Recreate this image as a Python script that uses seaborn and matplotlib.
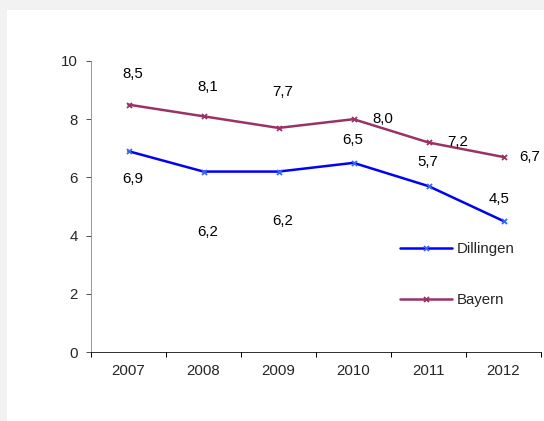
import numpy as np
import pandas as pd
import matplotlib
matplotlib.use("Agg")
import matplotlib.pyplot as plt
from matplotlib.patches import Rectangle
import seaborn as sns

# Data
years = ["2007", "2008", "2009", "2010", "2011", "2012"]
dillingen = [6.9, 6.2, 6.2, 6.5, 5.7, 4.5]
bayern = [8.5, 8.1, 7.7, 8.0, 7.2, 6.7]

# label offsets (pixels) like Excel's automatic placement
off_dil = [(4, -28), (4, -60), (4, -49), (-1, 23), (-1, 24), (-4, 22)]
off_bay = [(4, 31), (4, 29), (4, 36), (29, 0), (29, 0), (26, 0)]

df = pd.DataFrame({
    "Jahr": years * 2,
    "Wert": dillingen + bayern,
    "Region": ["Dillingen"] * 6 + ["Bayern"] * 6,
})

sns.set_style("white")
plt.rcParams["font.family"] = ["Liberation Sans", "DejaVu Sans"]
fs = 15

fig = plt.figure(figsize=(544 / 72, 421 / 72), dpi=72, facecolor="#f2f2f2")
fig.patches.append(Rectangle((7 / 544, 0), 1, 1 - 10 / 421, transform=fig.transFigure,
                             facecolor="white", edgecolor="none", zorder=-5))
ax = fig.add_axes([91 / 544, 69 / 421, 450 / 544, 291 / 421])
ax.set_facecolor("none")

colors = {"Dillingen": "#0000ff", "Bayern": "#993366"}
mcolors = {"Dillingen": "#3366ff", "Bayern": "#993366"}
for name in ["Dillingen", "Bayern"]:
    sub = df[df["Region"] == name]
    sns.lineplot(data=sub, x="Jahr", y="Wert", ax=ax, color=colors[name], lw=2.5,
                 marker="x", markersize=5, mew=1.8, mec=mcolors[name], label=name, sort=False)

for vals, offs in [(dillingen, off_dil), (bayern, off_bay)]:
    for i, (v, o) in enumerate(zip(vals, offs)):
        ax.annotate(f"{v:.1f}".replace(".", ","), (i, v), xytext=o, textcoords="offset points",
                    ha="center", va="center", fontsize=fs, color="black")

ax.set_xlim(-0.5, 5.5)
ax.set_ylim(0, 10)
ax.set_yticks(range(0, 11, 2))
ax.set_xticks(range(6))
ax.set_xticklabels(years)
ax.set_xticks(np.arange(-0.5, 6, 1), minor=True)
ax.tick_params(axis="x", which="major", bottom=True, length=0, pad=12, labelsize=fs)
ax.tick_params(axis="x", which="minor", bottom=True, length=5, width=1, color="black",
               direction="out")
ax.tick_params(axis="y", left=True, length=5, width=1, color="#555555", direction="out",
               pad=8, labelsize=fs)
ax.set_xlabel("")
ax.set_ylabel("")
for s in ["top", "right"]:
    ax.spines[s].set_visible(False)
ax.spines["bottom"].set_color("black")
ax.spines["left"].set_color("#808080")

ax.legend(loc="upper left", bbox_to_anchor=(295 / 450, 123 / 291), frameon=False,
          fontsize=fs, handlelength=3.5, labelspacing=2.45, handletextpad=0.35)

fig.savefig("out.png", dpi=72, facecolor=fig.get_facecolor())
